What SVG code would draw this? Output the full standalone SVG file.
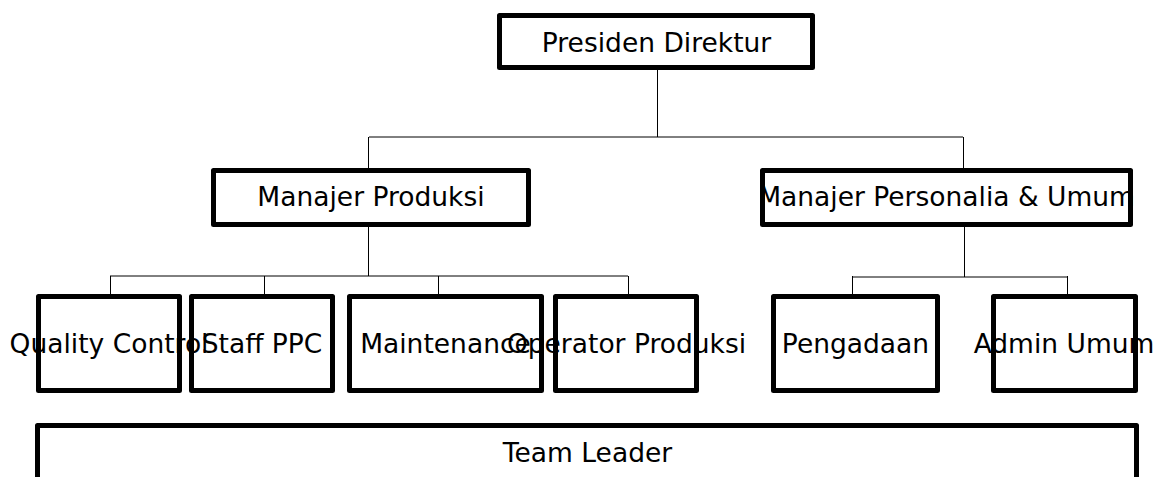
<svg xmlns="http://www.w3.org/2000/svg" width="1156" height="477" viewBox="0 0 1156 477">
<style>
.box{fill:none;stroke:#000;stroke-width:5;stroke-linejoin:round}
.lbl{font-family:"DejaVu Sans",sans-serif;font-size:26.5px;fill:#000;text-anchor:middle}
.con{stroke:#000;stroke-width:1;fill:none}
</style>
<rect width="1156" height="477" fill="#fff"/>
<g id="connectors">
<path class="con" d="M657.5,70V137M369,137H963M368.5,137V168M963.5,137V168"/>
<path class="con" d="M368.5,227V276M110,276H628M110.5,276V294M264.5,276V294M438.5,276V294M628.5,276V294"/>
<path class="con" d="M964.5,227V277M852,277H1067M852.5,276V294M1067.5,276V294"/>
</g>
<g id="presiden-direktur"><rect class="box" x="499.5" y="15.5" width="313" height="52"/><text class="lbl" x="656.5" y="52">Presiden Direktur</text></g>
<g id="manajer-produksi"><rect class="box" x="213.5" y="170.5" width="315" height="54"/><text class="lbl" x="371" y="206">Manajer Produksi</text></g>
<g id="manajer-personalia"><rect class="box" x="762.5" y="170.5" width="368" height="54"/><text class="lbl" x="946.5" y="206">Manajer Personalia &amp; Umum</text></g>
<g id="quality-control"><rect class="box" x="38.5" y="296.5" width="141" height="94"/><text class="lbl" x="109" y="353">Quality Control</text></g>
<g id="staff-ppc"><rect class="box" x="191.5" y="296.5" width="141" height="94"/><text class="lbl" x="262" y="353">Staff PPC</text></g>
<g id="maintenance"><rect class="box" x="349.5" y="296.5" width="192" height="94"/><text class="lbl" x="445.5" y="353">Maintenance</text></g>
<g id="operator-produksi"><rect class="box" x="555.5" y="296.5" width="141" height="94"/><text class="lbl" x="626.5" y="353">Operator Produksi</text></g>
<g id="pengadaan"><rect class="box" x="773.5" y="296.5" width="164" height="94"/><text class="lbl" x="855.5" y="353">Pengadaan</text></g>
<g id="admin-umum"><rect class="box" x="993.5" y="296.5" width="142" height="94"/><text class="lbl" x="1064" y="353">Admin Umum</text></g>
<g id="team-leader"><rect class="box" x="37.5" y="425.5" width="1099" height="90"/><text class="lbl" x="587.5" y="462">Team Leader</text></g>
</svg>
